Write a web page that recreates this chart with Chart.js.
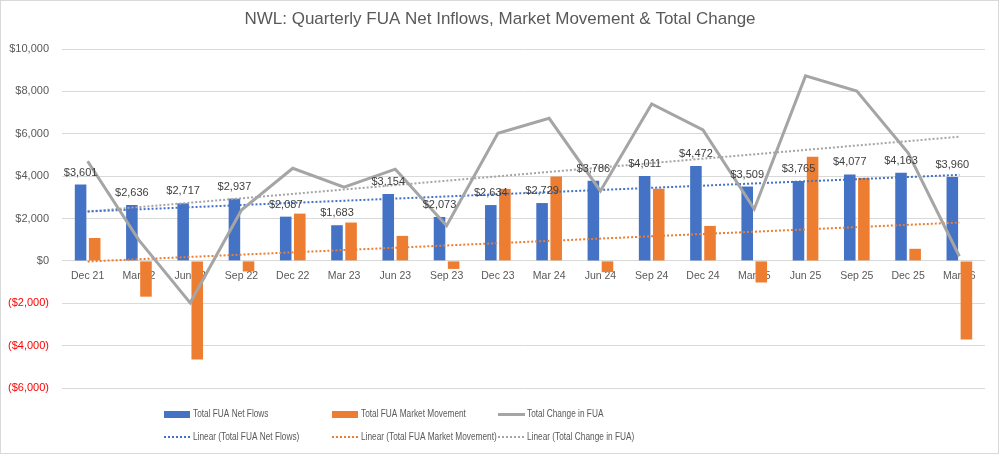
<!DOCTYPE html>
<html>
<head>
<meta charset="utf-8">
<title>NWL FUA</title>
<script src="https://cdn.jsdelivr.net/npm/chart.js@4.4.0/dist/chart.umd.min.js"></script>
<style>
    html, body { margin: 0; padding: 0; background: #fff; }
</style>
</head>
<body>
<canvas id="graficoFua" width="1000" height="454"></canvas>
<script>
// dados (em $m)
const trimestres = ['Dec 21', 'Mar 22', 'Jun 22', 'Sep 22', 'Dec 22', 'Mar 23', 'Jun 23', 'Sep 23', 'Dec 23',
    'Mar 24', 'Jun 24', 'Sep 24', 'Dec 24', 'Mar 25', 'Jun 25', 'Sep 25', 'Dec 25', 'Mar 26'];
const fluxoLiquido = [3601, 2636, 2717, 2937, 2087, 1683, 3154, 2073, 2634, 2729, 3786, 4011, 4472, 3509, 3765, 4077, 4163, 3960];
const movimentoMercado = [1080, -1690, -4660, -500, 2230, 1810, 1180, -380, 3400, 3980, -530, 3400, 1650, -1020, 4910, 3920, 570, -3710];
const variacaoTotal = [4700, 980, -1980, 2400, 4370, 3480, 4330, 1660, 6020, 6730, 3300, 7410, 6180, 2450, 8730, 8020, 5100, 220];

// pontas das linhas de tendencia (primeiro e ultimo trimestre)
const tendenciaFluxo = [2330, 4060];
const tendenciaMercado = [-30, 1810];
const tendenciaTotal = [2330, 5860];

const eixoY = { min: -6000, max: 10000, passo: 2000 };

const titulo = 'NWL: Quarterly FUA Net Inflows, Market Movement & Total Change';
const nomesLegenda = [
    'Total FUA Net Flows', 'Total FUA Market Movement', 'Total Change in FUA',
    'Linear (Total FUA Net Flows)', 'Linear (Total FUA Market Movement)', 'Linear (Total Change in FUA)'
];

const AZUL = '#4472C4';
const LARANJA = '#ED7D31';
const CINZA = '#A5A5A5';
const TEXTO = '#595959';
const FONTE = "'Liberation Sans', Arial, sans-serif";

function formatarDolar(v) {
    const s = '$' + Math.abs(v).toLocaleString('en-US');
    return v < 0 ? '(' + s + ')' : s;
}

function linhaTendencia(pontas) {
    var serie = trimestres.map(() => null);
    serie[0] = pontas[0];
    serie[serie.length - 1] = pontas[1];
    return serie;
}

// rotulos em cima das barras azuis
const rotulosBarras = {
    id: 'rotulosBarras',
    afterDatasetsDraw(chart) {
        const ctx = chart.ctx;
        const meta = chart.getDatasetMeta(0);
        ctx.save();
        ctx.font = '11px ' + FONTE;
        ctx.fillStyle = '#404040';
        ctx.textAlign = 'center';
        ctx.textBaseline = 'alphabetic';
        meta.data.forEach((barra, i) => {
            ctx.fillText(formatarDolar(fluxoLiquido[i]), barra.x, barra.y - 9);
        });
        ctx.restore();
    }
};

// titulo centrado na imagem + legenda em colunas, como no excel
const tituloLegenda = {
    id: 'tituloLegenda',
    afterDraw(chart) {
        const ctx = chart.ctx;
        ctx.save();
        ctx.font = '17px ' + FONTE;
        ctx.fillStyle = TEXTO;
        ctx.textAlign = 'center';
        ctx.textBaseline = 'middle';
        ctx.fillText(titulo, chart.width / 2, 19);

        const colunas = [164, 332, 498];
        const linhas = [414, 437];
        const cores = [AZUL, LARANJA, CINZA];
        ctx.font = '11.5px ' + FONTE;
        ctx.textAlign = 'left';
        for (var i = 0; i < nomesLegenda.length; i++) {
            const x = colunas[i % 3];
            const y = linhas[Math.floor(i / 3)];
            const cor = cores[i % 3];
            if (i < 2) {
                ctx.fillStyle = cor;
                ctx.fillRect(x, y - 3, 26, 7);
            } else if (i == 2) {
                ctx.strokeStyle = cor;
                ctx.lineWidth = 3;
                ctx.beginPath();
                ctx.moveTo(x, y + 0.5);
                ctx.lineTo(x + 27, y + 0.5);
                ctx.stroke();
            } else {
                ctx.strokeStyle = cor;
                ctx.lineWidth = 2;
                ctx.setLineDash([2, 2]);
                ctx.beginPath();
                ctx.moveTo(x, y);
                ctx.lineTo(x + 27, y);
                ctx.stroke();
                ctx.setLineDash([]);
            }
            // texto estreito igual ao original
            ctx.save();
            ctx.translate(x + 29, y);
            ctx.scale(0.72, 1);
            ctx.fillStyle = TEXTO;
            ctx.fillText(nomesLegenda[i], 0, 0);
            ctx.restore();
        }
        // moldura do grafico
        ctx.strokeStyle = '#d9d9d9';
        ctx.lineWidth = 1;
        ctx.strokeRect(0.5, 0.5, chart.width - 2, chart.height - 1);
        ctx.restore();
    }
};

const dataFua = {
    labels: trimestres,
    datasets: [
        {
            type: 'bar',
            label: nomesLegenda[0],
            data: fluxoLiquido,
            backgroundColor: AZUL,
            order: 3
        },
        {
            type: 'bar',
            label: nomesLegenda[1],
            data: movimentoMercado,
            backgroundColor: LARANJA,
            order: 3
        },
        {
            type: 'line',
            label: nomesLegenda[2],
            data: variacaoTotal,
            borderColor: CINZA,
            borderWidth: 3,
            pointRadius: 0,
            order: 1
        },
        {
            type: 'line',
            label: nomesLegenda[3],
            data: linhaTendencia(tendenciaFluxo),
            borderColor: AZUL,
            borderWidth: 2,
            borderDash: [2, 2],
            pointRadius: 0,
            spanGaps: true,
            order: 2
        },
        {
            type: 'line',
            label: nomesLegenda[4],
            data: linhaTendencia(tendenciaMercado),
            borderColor: LARANJA,
            borderWidth: 2,
            borderDash: [2, 2],
            pointRadius: 0,
            spanGaps: true,
            order: 2
        },
        {
            type: 'line',
            label: nomesLegenda[5],
            data: linhaTendencia(tendenciaTotal),
            borderColor: CINZA,
            borderWidth: 2,
            borderDash: [2, 2],
            pointRadius: 0,
            spanGaps: true,
            order: 2
        }
    ]
};

const configFua = {
    type: 'bar',
    data: dataFua,
    plugins: [rotulosBarras, tituloLegenda],
    options: {
        responsive: false,
        animation: false,
        devicePixelRatio: 1,
        layout: {
            padding: { top: 49, left: 0, right: 15, bottom: 66 }
        },
        datasets: {
            bar: { categoryPercentage: 0.55, barPercentage: 0.82 }
        },
        plugins: {
            legend: { display: false },
            tooltip: { enabled: false },
            title: { display: false }
        },
        scales: {
            x: {
                position: { y: 0 },
                grid: { display: false, drawTicks: false },
                border: { display: false },
                ticks: {
                    color: TEXTO,
                    font: { family: FONTE, size: 10.5 },
                    padding: 9,
                    autoSkip: false,
                    maxRotation: 0
                }
            },
            y: {
                min: eixoY.min,
                max: eixoY.max,
                grid: { color: '#d9d9d9', drawTicks: false },
                border: { display: false },
                afterFit(scale) {
                    scale.width = 62;
                },
                ticks: {
                    stepSize: eixoY.passo,
                    padding: 13,
                    font: { family: FONTE, size: 11 },
                    color: (c) => c.tick.value < 0 ? '#FF0000' : TEXTO,
                    callback: (v) => formatarDolar(v)
                }
            }
        }
    }
};

window.graficoFua = new Chart(document.getElementById('graficoFua'), configFua);
</script>
</body>
</html>
